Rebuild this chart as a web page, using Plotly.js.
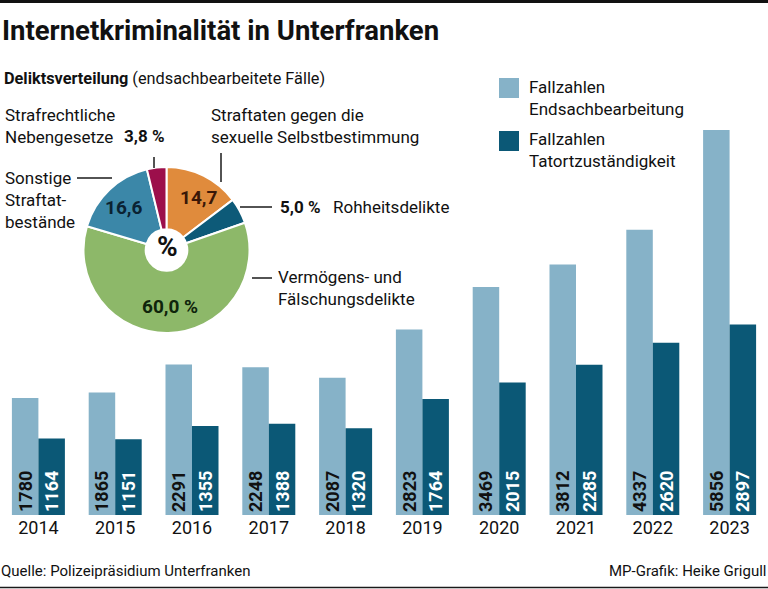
<!DOCTYPE html>
<html><head><meta charset="utf-8">
<script src="https://cdn.plot.ly/plotly-3.0.1.min.js"></script>
<style>html,body{margin:0;padding:0;background:#fff}#chart{width:768px;height:589px}</style>
</head><body><div id="chart"></div>
<script>
// ---- data ----
const years = ['2014','2015','2016','2017','2018','2019','2020','2021','2022','2023'];
const endsach = [1780,1865,2291,2248,2087,2823,3469,3812,4337,5856];
const tatort  = [1164,1151,1355,1388,1320,1764,2015,2285,2620,2897];
const seriesNames = ['Fallzahlen<br>Endsachbearbeitung','Fallzahlen<br>Tatortzuständigkeit'];
const pieLabels = ['Straftaten gegen die<br>sexuelle Selbstbestimmung','Rohheitsdelikte','Vermögens- und<br>Fälschungsdelikte','Sonstige<br>Straftat-<br>bestände','Strafrechtliche<br>Nebengesetze'];
const pieValues = [14.7,5.0,60.0,16.6,3.8];
const pieSuffix = ['', ' %', ' %', '', ' %'];
const titleText = 'Internetkriminalität in Unterfranken';
const subtitleBold = 'Deliktsverteilung';
const subtitleRest = ' (endsachbearbeitete Fälle)';
const sourceText = 'Quelle: Polizeipräsidium Unterfranken';
const creditText = 'MP-Grafik: Heike Grigull';

// ---- style ----
const FONT = 'Roboto, "Open Sans", sans-serif';
const cLight = '#86b2c8', cDark = '#0b5876';
const pieColors = ['#e08b3c','#0d5a78','#8db869','#3b87a8','#9c0f4b'];
const W = 768, PH = 515;
const px = x => x / W;
const py = y => (PH - y) / PH;
const fmt = v => v.toFixed(1).replace('.', ',');

const barCommon = {
  type:'bar', textposition:'inside', insidetextanchor:'start', textangle:-90,
  constraintext:'none', hoverinfo:'skip', showlegend:false, cliponaxis:false
};
const traces = [
  Object.assign({}, barCommon, {x:years, y:endsach, name:seriesNames[0], marker:{color:cLight},
    text:endsach.map(String), textfont:{family:FONT, size:18, color:'#111', weight:'bold'}}),
  Object.assign({}, barCommon, {x:years, y:tatort, name:seriesNames[1], marker:{color:cDark},
    text:tatort.map(String), textfont:{family:FONT, size:18, color:'#fff', weight:'bold'}}),
  {type:'pie', values:pieValues, labels:pieLabels, sort:false, direction:'clockwise', rotation:0,
   hole:0.25, textinfo:'none', hoverinfo:'skip', showlegend:false,
   marker:{colors:pieColors, line:{color:'#fff', width:2}},
   domain:{x:[px(83), px(250)], y:[py(333), py(167)]}}
];

const ann = [];
function A(text, x, y, opts) {
  ann.push(Object.assign({text, x:px(x), y:py(y), xref:'paper', yref:'paper', showarrow:false,
    xanchor:'left', yanchor:'middle', align:'left', font:{family:FONT, size:17, color:'#111'}}, opts||{}));
}
A(titleText, 0, 31, {font:{family:FONT, size:27.5, color:'#111', weight:'bold'}});
A('<b>'+subtitleBold+'</b>'+subtitleRest, 2, 79, {font:{family:FONT, size:16.3, color:'#111'}});
// pie labels
A(pieLabels[4], 3, 126);
A('<b>'+fmt(pieValues[4])+pieSuffix[4]+'</b>', 122, 136);
A(pieLabels[0], 209, 126);
A(pieLabels[3], 3, 200);
A('<b>'+fmt(pieValues[1])+pieSuffix[1]+'</b>', 278, 207);
A(pieLabels[1], 331, 207);
A(pieLabels[2], 276, 288);
// inside pie
A('<b>'+fmt(pieValues[0])+pieSuffix[0]+'</b>', 198, 197, {xanchor:'center', font:{family:FONT, size:19, color:'#3a1707'}});
A('<b>'+fmt(pieValues[3])+pieSuffix[3]+'</b>', 123, 207, {xanchor:'center', font:{family:FONT, size:19, color:'#0a2232'}});
A('<b>'+fmt(pieValues[2])+pieSuffix[2]+'</b>', 170, 306, {xanchor:'center', font:{family:FONT, size:19, color:'#0f240b'}});
A('<b>%</b>', 167, 247, {xanchor:'center', font:{family:FONT, size:28, color:'#111'}});
// legend
A(seriesNames[0], 527, 98);
A(seriesNames[1], 527, 149.5);
// footer
A(sourceText, -1, 571, {font:{family:FONT, size:15, color:'#111'}});
A(creditText, 769, 571, {xanchor:'right', font:{family:FONT, size:15, color:'#111'}});

const shapes = [];
function L(x0,y0,x1,y1,w){shapes.push({type:'line', xref:'paper', yref:'paper', x0:px(x0), y0:py(y0), x1:px(x1), y1:py(y1), line:{color:'#1a1a1a', width:w||1.5}});}
function R(x0,y0,x1,y1,c){shapes.push({type:'rect', xref:'paper', yref:'paper', x0:px(x0), y0:py(y0), x1:px(x1), y1:py(y1), fillcolor:c, line:{width:0}});}
L(77,178,112,178);
L(154,157,154,168);
L(221,153,221,182);
L(240,207,272,207);
L(252,278,272,278);
R(499,78,519,98,cLight);
R(499,131,519,151,cDark);
R(0,0,768,3,'#111');
L(0,587.5,768,587.5,1.5);

const layout = {
  width:768, height:589, margin:{l:0, r:0, t:0, b:74, pad:0},
  paper_bgcolor:'#fff', plot_bgcolor:'#fff', showlegend:false,
  barmode:'group', bargap:0.31, bargroupgap:0,
  font:{family:FONT, color:'#111'},
  xaxis:{type:'category', range:[-0.5, 9.5], showgrid:false, zeroline:false, showline:false, ticks:'',
         tickfont:{family:FONT, size:18, color:'#111'}, fixedrange:true},
  yaxis:{visible:false, range:[0, 5856*515/385], fixedrange:true},
  annotations:ann, shapes:shapes
};
Plotly.newPlot('chart', traces, layout, {displayModeBar:false, staticPlot:true});
</script></body></html>
